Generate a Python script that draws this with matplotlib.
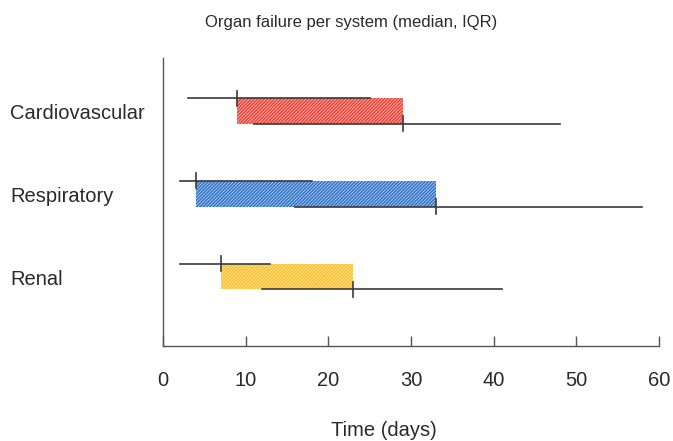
import matplotlib
matplotlib.use('Agg')
import matplotlib.pyplot as plt

plt.rcParams['font.family'] = ['Liberation Sans', 'DejaVu Sans']
plt.rcParams['hatch.linewidth'] = 1.35

# Data (days)
systems = ['Cardiovascular', 'Respiratory', 'Renal']
onset_median = [9, 4, 7]
onset_q1 = [3, 2, 2]
onset_q3 = [25, 18, 13]
end_median = [29, 33, 23]
end_q1 = [11, 16, 12]
end_q3 = [48, 58, 41]
colors = ['#f2463a', '#3577cc', '#fbc02a']

ypos = [3, 2, 1]
bar_h = 0.31
tick_h = 0.09

fig = plt.figure(figsize=(6.73, 4.41), dpi=100)
ax = fig.add_axes([0.2422, 0.2154, 0.7368, 0.6531])

line_col = '#3a3a3a'
for i, y in enumerate(ypos):
    ax.barh(y, end_median[i] - onset_median[i], left=onset_median[i], height=bar_h,
            facecolor='white', edgecolor=colors[i], hatch='/' * 10, linewidth=0)
    y_top = y + bar_h / 2
    y_bot = y - bar_h / 2
    # onset IQR line with median tick
    ax.plot([onset_q1[i], onset_q3[i]], [y_top, y_top], color=line_col, lw=1.2)
    ax.plot([onset_median[i]] * 2, [y_top - tick_h, y_top + tick_h], color=line_col, lw=1.2)
    # end IQR line with median tick
    ax.plot([end_q1[i], end_q3[i]], [y_bot, y_bot], color=line_col, lw=1.2)
    ax.plot([end_median[i]] * 2, [y_bot - tick_h, y_bot + tick_h], color=line_col, lw=1.2)

ax.set_xlim(0, 60)
ax.set_ylim(0.16, 3.64)
ax.set_xticks(range(0, 61, 10))
ax.set_yticks([])
ax.tick_params(axis='x', direction='in', length=7, width=1, color='#555555',
               pad=18, labelsize=14.5, labelcolor='#2a2a2a')

for s in ['top', 'right']:
    ax.spines[s].set_visible(False)
for s in ['left', 'bottom']:
    ax.spines[s].set_color('#555555')
    ax.spines[s].set_linewidth(1)

for i, y in enumerate(ypos):
    fig.text(10 / 673, (ax.transData.transform((0, y))[1] - 3) / 441, systems[i],
             fontsize=14.5, ha='left', va='center', color='#2a2a2a')

fig.text(351 / 673, 1 - 22 / 441, 'Organ failure per system (median, IQR)',
         fontsize=12, ha='center', va='center', color='#2a2a2a')
fig.text(384 / 673, 1 - 431 / 441, 'Time (days)',
         fontsize=14.5, ha='center', va='center', color='#2a2a2a')

fig.savefig('out.png', dpi=100)
